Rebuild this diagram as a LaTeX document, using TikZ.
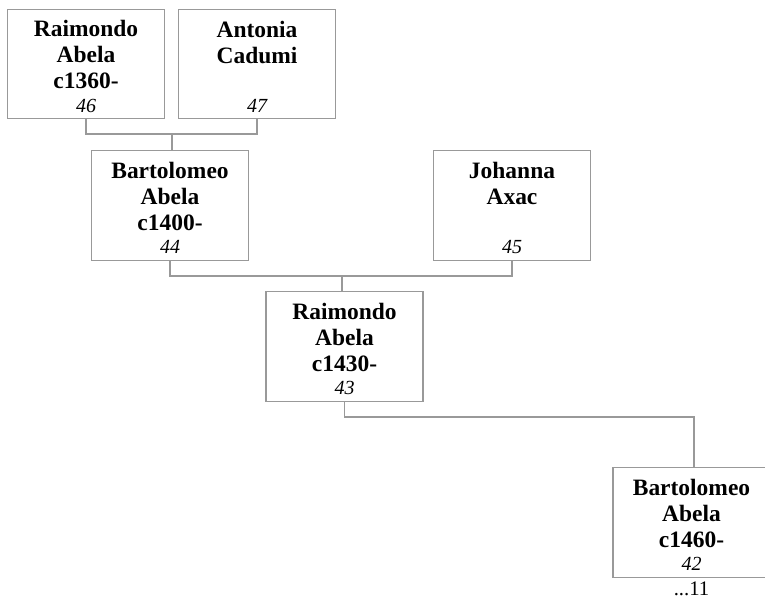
\documentclass[tikz,border=0pt]{standalone}
\usepackage{fontspec}
\setmainfont{Liberation Serif}
\usetikzlibrary{positioning}

\newcommand{\pnum}[1]{{\fontsize{15}{17}\selectfont\mdseries\itshape #1}}
\newcommand{\ptop}{\rule{0pt}{16pt}}

\begin{document}
\begin{tikzpicture}[x=0.75pt, y=-0.75pt,
    person/.style={draw=gray!80, line width=0.9pt, minimum width=117.75pt, minimum height=82pt,
        inner sep=0pt, align=center, font=\fontsize{17.6}{19.5}\selectfont\bfseries},
    link/.style={draw=gray!80, line width=0.9pt}]
    \useasboundingbox (0,0) rectangle (765,607);

    % Great-grandparents
    \node[person] (p46) at (86,64) {\ptop Raimondo\\Abela\\c1360-\\[-2pt]\pnum{46}};
    \node[person] (p47) at (257,64) {\ptop Antonia\\Cadumi\\~\\[-2pt]\pnum{47}};

    % Grandparents
    \node[person] (p44) at (170,205.5) {\ptop Bartolomeo\\Abela\\c1400-\\[-2pt]\pnum{44}};
    \node[person] (p45) at (512,205.5) {\ptop Johanna\\Axac\\~\\[-2pt]\pnum{45}};

    % Parent
    \node[person] (p43) at (344.5,346.5) {\ptop Raimondo\\Abela\\c1430-\\[-2pt]\pnum{43}};

    % Child
    \node[person] (p42) at (691.5,522.5) {\ptop Bartolomeo\\Abela\\c1460-\\[-2pt]\pnum{42}};
    \node[below=1.5pt of p42, inner sep=1pt] (p42more) {\fontsize{15.5}{17}\selectfont ...11};

    % Junctions
    \coordinate (j1) at (172,134);
    \coordinate (j2) at (342,276);
    \coordinate (j3) at (694,417);

    % Connectors
    \draw[link] (p46.south) |- (j1) -| (p47.south);
    \draw[link] (j1) -- (j1 |- p44.north);
    \draw[link] (p44.south) |- (j2) -| (p45.south);
    \draw[link] (j2) -- (j2 |- p43.north);
    \draw[link] (p43.south) |- (j3) -- (j3 |- p42.north);
\end{tikzpicture}
\end{document}
